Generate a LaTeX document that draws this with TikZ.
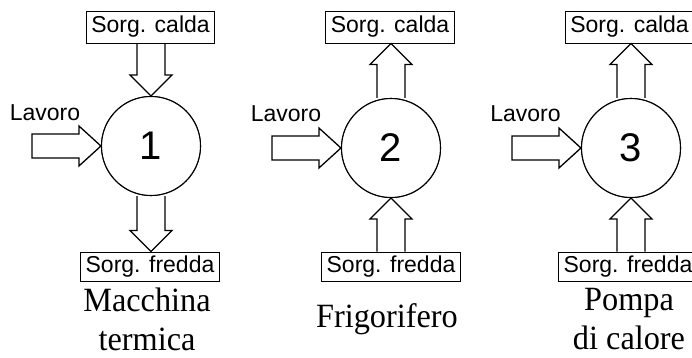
\documentclass[tikz,border=0pt]{standalone}
\usepackage{fontspec}
\setmainfont{Liberation Serif}
\setsansfont{Liberation Sans}
\newfontfamily\capfont[FakeStretch=0.95]{Liberation Serif}
\usetikzlibrary{calc}
\newcommand\arrdown[2]{\draw[blk] ($(#2 |- #1)+(-14,0)$) -- ($(#2)+(-14,-21)$) -- ($(#2)+(-21,-21)$) -- (#2) -- ($(#2)+(21,-21)$) -- ($(#2)+(14,-21)$) -- ($(#2 |- #1)+(14,0)$);}
\newcommand\arrup[2]{\draw[blk] ($(#2 |- #1)+(-14,0)$) -- ($(#2)+(-14,21)$) -- ($(#2)+(-21,21)$) -- (#2) -- ($(#2)+(21,21)$) -- ($(#2)+(14,21)$) -- ($(#2 |- #1)+(14,0)$);}
\newcommand\arrright[2]{\draw[blk] ($(#2 -| #1)+(0,-12)$) -- ($(#2)+(-22,-12)$) -- ($(#2)+(-22,-20)$) -- (#2) -- ($(#2)+(-22,20)$) -- ($(#2)+(-22,12)$) -- ($(#2 -| #1)+(0,12)$) -- cycle;}
\begin{document}
\begin{tikzpicture}[x=1pt,y=-1pt,
  blk/.style={line width=1.3pt, line join=miter},
  src/.style={draw, line width=0.9pt, font=\sffamily\fontsize{23}{25}\selectfont, inner xsep=5pt, inner ysep=0pt},
  hot/.style={src, minimum height=32pt},
  cold/.style={src, minimum height=29pt},
  machine/.style={circle, draw, line width=1.1pt, fill=white, minimum size=99pt, inner sep=0pt, font=\sffamily\fontsize{40}{40}\selectfont},
  lav/.style={font=\sffamily\fontsize{23}{25}\selectfont, inner sep=0pt},
  caption/.style={font=\capfont\fontsize{34}{39}\selectfont, align=center, inner sep=0pt}]
\useasboundingbox (0,0) rectangle (692,358);
% sources
\node[hot] (t1) at (150.5,27) {Sorg. calda};
\node[cold] (b1) at (150,266.5) {Sorg. fredda};
\node[hot] (t2) at (390,27) {Sorg. calda};
\node[cold] (b2) at (391,266.5) {Sorg. fredda};
\node[hot] (t3) at (629.5,27) {Sorg. calda};
\node[cold] (b3) at (628,266.5) {Sorg. fredda};
% machine positions
\coordinate (p1) at (151,146);
\coordinate (p2) at (391,148);
\coordinate (p3) at (631,148);
% lavoro
\node[lav] (l1) at (45,113) {Lavoro};
\node[lav] (l2) at (286,114) {Lavoro};
\node[lav] (l3) at (525.5,114) {Lavoro};
\coordinate (w1) at (32,146);
\coordinate (w2) at (272,148);
\coordinate (w3) at (512,148);
% machines (nodes defined, drawn later on top)
\path (p1) node[machine] (c1) {1};
\path (p2) node[machine] (c2) {2};
\path (p3) node[machine] (c3) {3};
\coordinate (d1) at (c1 |- b1.north);
\coordinate (u2) at (c2 |- t2.south);
\coordinate (u3) at (c3 |- t3.south);
% arrows
\arrdown{t1.south}{c1.north}
\arrdown{c1.south}{d1}
\arrright{w1}{c1.west}
\arrup{c2.north}{u2}
\arrup{b2.north}{c2.south}
\arrright{w2}{c2.west}
\arrup{c3.north}{u3}
\arrup{b3.north}{c3.south}
\arrright{w3}{c3.west}
% redraw circles on top
\node[machine] at (p1) {1};
\node[machine] at (p2) {2};
\node[machine] at (p3) {3};
% captions
\node[caption] (m1) at (147,319) {Macchina\\termica};
\node[caption, anchor=base] (m2) at (387,327) {Frigorifero};
\node[caption] (m3) at (629,319) {Pompa\\di calore};
\end{tikzpicture}
\end{document}
